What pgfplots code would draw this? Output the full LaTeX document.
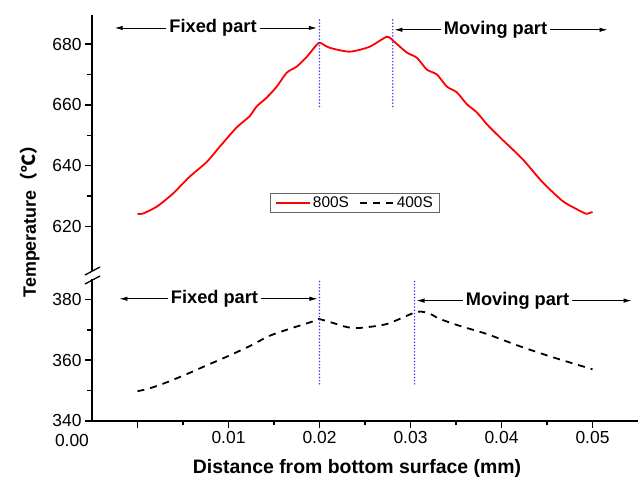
\documentclass[border=0pt]{standalone}
\usepackage{fontspec}
\setmainfont{Liberation Sans}
\newfontfamily\cjk{Noto Sans CJK SC}
\usepackage{pgfplots}
\pgfplotsset{compat=1.18}
\usetikzlibrary{arrows.meta}

\definecolor{vline}{RGB}{60,60,255}

\pgfplotsset{
  brk/.style={
    scale only axis, width=546bp,
    xmin=-0.005, xmax=0.055,
    clip=false,
    axis line style={line width=1.5bp, -},
    every tick/.style={line width=1.5bp, black},
    major tick length=7bp, minor tick length=4.5bp,
    tick align=outside,
    /pgf/number format/assume math mode=true,
    tick label style={font=\fontsize{17.5}{19}\selectfont},
    minor y tick num=1,
    axis y line*=left,
  },
}
\tikzset{
  ann/.style={font=\bfseries\fontsize{18.3}{20}\selectfont, inner sep=3bp},
  arr/.style={-{Latex[length=8bp,width=4.5bp]}, line width=0.9bp},
  vl/.style={vline, line width=1.7bp, line cap=round, dash pattern=on 0bp off 3.2bp},
}

\begin{document}
\begin{tikzpicture}
\path (-92bp,-59bp) rectangle (547bp,421bp);

% upper part (800S)
\begin{axis}[brk, at={(0,149.5bp)}, height=256.3bp,
  ymin=605.2, ymax=689.5, ytick={620,640,660,680},
  axis x line=none,
  legend columns=2,
  legend style={at={(axis cs:0.0239,627.8)}, anchor=center,
    draw=black!60, line width=0.8bp,
    font=\fontsize{15.5}{17}\selectfont,
    inner xsep=5bp, inner ysep=1.5bp,
    /tikz/every even column/.append style={column sep=8bp}},
  legend image code/.code={\draw[#1] (0bp,0bp) -- (34bp,0bp);},
  ]
\addplot[red, line width=1.8bp, smooth, tension=0.4] coordinates {
(0,624.2)(0.00055,624.2)(0.0021,626.5)(0.00385,630.7)(0.0057,636.3)
(0.0076,641.2)(0.009,646.1)(0.0109,652.6)(0.0123,656.2)(0.0131,659.5)
(0.0142,662.4)(0.0153,666.0)(0.0164,670.6)(0.0175,672.6)(0.0186,675.8)
(0.0197,679.8)(0.0201,680.4)(0.0211,678.8)(0.0233,677.5)(0.0255,679.1)
(0.0274,682.4)(0.0282,680.8)(0.0296,677.2)(0.0307,675.5)(0.0318,671.6)
(0.0329,670.0)(0.034,666.0)(0.0351,664.1)(0.0362,660.2)(0.0373,657.5)
(0.0384,653.6)(0.0398,649.4)(0.0423,642.2)(0.0445,634.6)(0.0467,628.4)
(0.0482,625.8)(0.0493,624.2)(0.05,624.8)};
\addlegendentry{800S}
\addlegendimage{black, line width=1.8bp, dash pattern=on 7bp off 6bp}
\addlegendentry{400S}

\addplot[vl, forget plot] coordinates {(0.02,687.9)(0.02,658.5)};
\addplot[vl, forget plot] coordinates {(0.02805,687.9)(0.02805,658.5)};

\node[ann] (f1) at (axis cs:0.0083,685.3) {Fixed part};
\draw[arr] (f1.west) -- (axis cs:-0.0025,685.3);
\draw[arr] (f1.east) -- (axis cs:0.0197,685.3);
\node[ann] (m1) at (axis cs:0.03934,684.7) {Moving part};
\draw[arr] (m1.west) -- (axis cs:0.02824,684.7);
\draw[arr] (m1.east) -- (axis cs:0.05165,684.7);
\end{axis}

% lower part (400S)
\begin{axis}[brk, at={(0,0)}, height=143.5bp,
  ymin=340, ymax=387.2, ytick={340,360,380},
  axis x line*=bottom,
  scaled x ticks=false,
  xtick={0,0.01,0.02,0.03,0.04,0.05},
  xticklabels={,0.01,0.02,0.03,0.04,0.05},
  minor x tick num=1,
  ]
\addplot[black, line width=1.8bp, dash pattern=on 7bp off 6bp, smooth, tension=0.4] coordinates {
(0,349.8)(0.0013,350.7)(0.0032,352.7)(0.0054,355.4)(0.0076,358.3)
(0.01,361.4)(0.0123,364.6)(0.0145,368.0)(0.0167,370.3)(0.0192,372.7)
(0.0198,373.6)(0.0211,372.6)(0.023,370.9)(0.0244,370.6)(0.0274,371.9)
(0.0307,375.9)(0.0321,375.3)(0.0332,373.6)(0.0354,371.3)(0.0384,368.6)
(0.042,364.6)(0.0456,361.0)(0.05,357.0)};

\addplot[vl] coordinates {(0.02,385.9)(0.02,351.4)};
\addplot[vl] coordinates {(0.03044,385.9)(0.03044,351.4)};

\node[ann] (f2) at (axis cs:0.00846,380.2) {Fixed part};
\draw[arr] (f2.west) -- (axis cs:-0.00198,380.2);
\draw[arr] (f2.east) -- (axis cs:0.01978,380.2);
\node[ann] (m2) at (axis cs:0.04176,379.6) {Moving part};
\draw[arr] (m2.west) -- (axis cs:0.03066,379.6);
\draw[arr] (m2.east) -- (axis cs:0.05429,379.6);

\node[anchor=north, font=\fontsize{17.5}{19}\selectfont, inner sep=0pt]
  at (axis cs:-0.0072,340) [yshift=-13bp] {0.00};
\end{axis}

% axis break marks
\fill[white] (-4bp,142bp) rectangle (4bp,148bp);
\draw[line width=1.3bp] (-7bp,146bp) -- (8bp,154bp);
\draw[line width=1.3bp] (-7bp,137bp) -- (8bp,145bp);

% axis titles
\node[rotate=90, font=\bfseries\fontsize{18}{20}\selectfont] at (-62bp,204bp)
  {Temperature{\cjk （℃）}};
\node[font=\bfseries\fontsize{19.5}{21}\selectfont] at (265bp,-47bp)
  {Distance from bottom surface (mm)};
\end{tikzpicture}
\end{document}
